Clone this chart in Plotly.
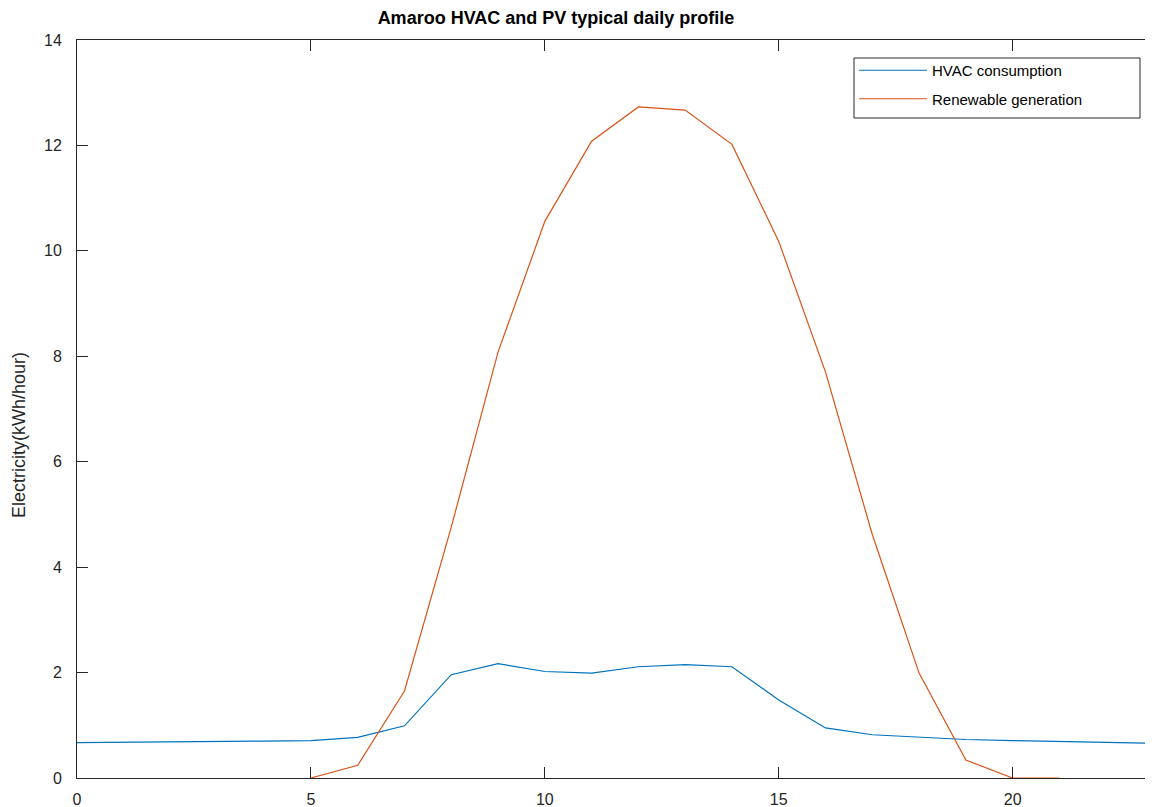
import plotly.graph_objects as go

hours = list(range(24))
hvac = [0.67, 0.675, 0.68, 0.69, 0.70, 0.71, 0.77, 0.99, 1.96, 2.17, 2.02, 1.99,
        2.11, 2.15, 2.11, 1.48, 0.95, 0.82, 0.78, 0.73, 0.71, 0.69, 0.67, 0.66]
pv_hours = list(range(5, 22))
pv = [0.0, 0.24, 1.65, 4.76, 8.08, 10.56, 12.08, 12.73, 12.67, 12.02, 10.18,
      7.70, 4.62, 1.99, 0.34, 0.0, 0.0]

x_ticks = [0, 5, 10, 15, 20]
y_ticks = [0, 2, 4, 6, 8, 10, 12, 14]

# page has an 8px body margin: figure origin sits at screen (8, 8)
OFF = 8
W, H = 1153 - OFF, 807 - OFF
L, T = 77 - OFF, 40 - OFF
B = H - (778 - OFF)
pw, ph = W - L, H - T - B


def px_x(sx):
    return (sx - OFF - L) / pw


def px_y(sy):
    return (H - B - (sy - OFF)) / ph


axis_col = "#262626"
font = "Liberation Sans, Arial, Helvetica, sans-serif"

fig = go.Figure()
fig.add_trace(go.Scatter(x=hours, y=hvac, mode="lines", name="HVAC consumption",
                         legendgroup="a",
                         line=dict(color="#0072BD", width=1.2)))
fig.add_trace(go.Scatter(x=pv_hours, y=pv, mode="lines", name="Renewable generation",
                         legendgroup="b",
                         line=dict(color="#D95319", width=1.2)))
# invisible trace to carry right-side ticks
fig.add_trace(go.Scatter(x=[0], y=[0], yaxis="y2", mode="markers",
                         marker=dict(opacity=0), showlegend=False, hoverinfo="skip"))

fig.update_layout(
    width=W, height=H,
    margin=dict(l=L, r=0, t=T, b=B, pad=0),
    paper_bgcolor="white", plot_bgcolor="white",
    font=dict(family=font, size=16, color=axis_col),
    title=dict(text="<b>Amaroo HVAC and PV typical daily profile</b>",
               x=px_x(556), xref="paper", xanchor="center",
               y=1 - (18 - OFF) / H, yref="container", yanchor="middle",
               font=dict(family=font, size=18, color="black")),
    xaxis=dict(range=[0, 23], tickvals=x_ticks, ticks="inside", ticklen=11,
               tickcolor=axis_col, tickwidth=1, showline=True, linecolor=axis_col,
               linewidth=1, mirror="ticks", showgrid=False, zeroline=False,
               ticklabelstandoff=7,
               tickfont=dict(size=16, color=axis_col)),
    yaxis=dict(range=[0, 14], tickvals=y_ticks, ticks="inside", ticklen=11,
               tickcolor=axis_col, tickwidth=1, showline=True, linecolor=axis_col,
               linewidth=1, showgrid=False, zeroline=False, ticklabelstandoff=11,
               tickfont=dict(size=16, color=axis_col)),
    yaxis2=dict(range=[0, 14], tickvals=y_ticks, overlaying="y", side="right",
                ticks="inside", ticklen=5, tickcolor=axis_col, tickwidth=1,
                showticklabels=False, showline=False, showgrid=False, zeroline=False),
    legend=dict(x=px_x(854), y=px_y(54), xanchor="left", yanchor="top",
                borderwidth=0, bgcolor="rgba(0,0,0,0)",
                font=dict(family=font, size=15, color="black"),
                tracegroupgap=6, itemwidth=68),
    shapes=[dict(type="rect", xref="paper", yref="paper",
                 x0=px_x(854), x1=px_x(1140), y0=px_y(118), y1=px_y(58),
                 line=dict(color=axis_col, width=1), fillcolor="white", layer="below")],
    annotations=[dict(text="Electricity(kWh/hour)", textangle=-90,
                      xref="paper", yref="paper",
                      x=px_x(19), y=px_y(435),
                      xanchor="center", yanchor="middle", showarrow=False,
                      font=dict(family=font, size=18, color=axis_col))],
    showlegend=True,
)

fig.write_html("out.html")
